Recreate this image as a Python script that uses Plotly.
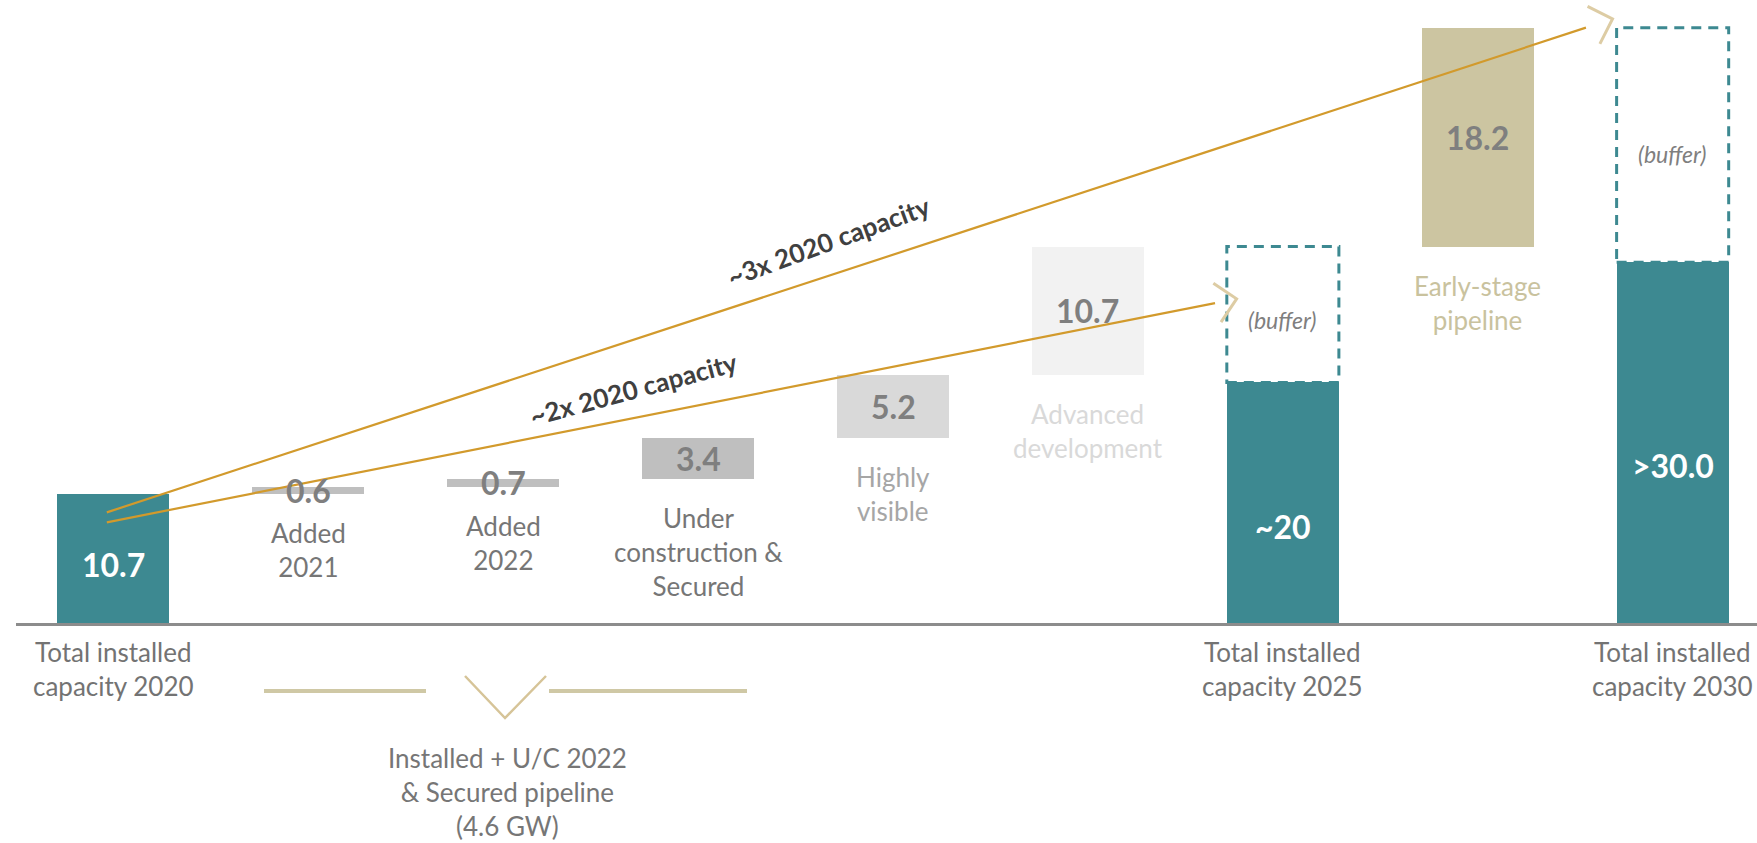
import math
import plotly.graph_objects as go

# ---------------- data ----------------
categories = [
    "Total installed<br>capacity 2020",
    "Added<br>2021",
    "Added<br>2022",
    "Under<br>construction &<br>Secured",
    "Highly<br>visible",
    "Advanced<br>development",
    "Total installed<br>capacity 2025",
    "Early-stage<br>pipeline",
    "Total installed<br>capacity 2030",
]
values = [10.7, 0.6, 0.7, 3.4, 5.2, 10.7, 20.0, 18.2, 30.0]
value_labels = ["10.7", "0.6", "0.7", "3.4", "5.2", "10.7", "~20", "18.2", ">30.0"]
kinds = ["total", "delta", "delta", "delta", "delta", "delta", "total", "delta", "total"]
buffer_label = "(buffer)"
bracket_label = "Installed + U/C 2022<br>& Secured pipeline<br>(4.6 GW)"
growth_labels = ["~2x 2020 capacity", "~3x 2020 capacity"]

# ---------------- styles ----------------
TEAL = "#3D8991"
bar_colors = [TEAL, "#BFBFBF", "#BFBFBF", "#BFBFBF", "#D9D9D9", "#F2F2F2", TEAL, "#CCC5A1", TEAL]
cat_colors = ["#737373", "#767676", "#767676", "#767676", "#A6A6A6", "#D9D9D9", "#737373", "#C9C29E", "#737373"]
val_colors = ["#FFFFFF", "#7F7F7F", "#7F7F7F", "#7F7F7F", "#7F7F7F", "#7F7F7F", "#FFFFFF", "#7F7F7F", "#FFFFFF"]
total_label_frac = [0.456, 0.40, 0.437]
GOLD = "#D29A2C"
CHEV = "#DDCCA4"
BRACKET = "#CFC8A5"
FONT = "Lato"

W, H = 1757, 843
ML, MR, MT, MB = 16, 0, 0, 220
PW, PH = W - ML - MR, H - MT - MB
XR = [-0.5, -0.5 + PW / 194.9]
YR = [0, 51.8]
BAR_W = 0.575


def d2px(x, y):
    return (ML + (x - XR[0]) / (XR[1] - XR[0]) * PW,
            MT + (YR[1] - y) / (YR[1] - YR[0]) * PH)


def px2d(px, py):
    return (XR[0] + (px - ML) / PW * (XR[1] - XR[0]),
            YR[1] - (py - MT) / PH * (YR[1] - YR[0]))


def px2paper(px, py):
    return ((px - ML) / PW, (MT + PH - py) / PH)


# ---------------- waterfall bases ----------------
bases = []
buffers = []
running = 0.0
for i, (v, k) in enumerate(zip(values, kinds)):
    if k == "total":
        bases.append(0.0)
        if running == 0:
            running = v
        else:
            buffers.append((i, v, running))
    else:
        bases.append(running)
        running += v

xs = list(range(len(values)))

fig = go.Figure()
fig.add_trace(go.Bar(
    x=xs, y=values, base=bases, width=BAR_W,
    marker=dict(color=bar_colors, line=dict(width=0)),
    hoverinfo="skip", showlegend=False,
))

shapes = []
annotations = []

# dashed buffer boxes
for (i, y0, y1) in buffers:
    shapes.append(dict(type="rect", xref="x", yref="y",
                       x0=i - BAR_W / 2, x1=i + BAR_W / 2, y0=y0, y1=y1,
                       line=dict(color=TEAL, width=3, dash="10px,7px"),
                       fillcolor="rgba(0,0,0,0)", layer="above"))
    annotations.append(dict(x=i, y=y0 + 0.46 * (y1 - y0), xref="x", yref="y",
                            text=buffer_label, showarrow=False,
                            font=dict(family=FONT, size=23, color="#7F7F7F", style="italic")))

# value + category labels
ti = 0
for i, (v, k) in enumerate(zip(values, kinds)):
    if k == "total":
        annotations.append(dict(x=i, y=total_label_frac[ti] * v, xref="x", yref="y",
                                text="<b>%s</b>" % value_labels[i], showarrow=False,
                                font=dict(family=FONT, size=32, color=val_colors[i])))
        ti += 1
        annotations.append(dict(x=i, y=0, xref="x", yref="paper", yanchor="middle",
                                yshift=-46, text=categories[i], showarrow=False,
                                font=dict(family=FONT, size=26, color=cat_colors[i])))
    else:
        annotations.append(dict(x=i, y=bases[i] + v / 2, xref="x", yref="y",
                                text="<b>%s</b>" % value_labels[i], showarrow=False,
                                font=dict(family=FONT, size=32, color=val_colors[i])))
        annotations.append(dict(x=i, y=bases[i], xref="x", yref="y", yanchor="top",
                                yshift=-21, text=categories[i], showarrow=False,
                                font=dict(family=FONT, size=26, color=cat_colors[i])))

# growth arrows (decoration, in data units)
growth_arrows = [
    dict(x0=-0.034, y0=8.37, x1=5.652, y1=26.6, gap=22, text_x=2.666, text_y=19.43, angle=-15),
    dict(x0=-0.034, y0=9.2, x1=7.555, y1=49.5, gap=28, text_x=3.671, text_y=31.73, angle=-20),
]
for a, lab in zip(growth_arrows, growth_labels):
    shapes.append(dict(type="line", xref="x", yref="y", x0=a["x0"], y0=a["y0"],
                       x1=a["x1"], y1=a["y1"], line=dict(color=GOLD, width=2.2), layer="above"))
    sx, sy = d2px(a["x0"], a["y0"])
    ex, ey = d2px(a["x1"], a["y1"])
    L = math.hypot(ex - sx, ey - sy)
    dx, dy = (ex - sx) / L, (ey - sy) / L
    tx, ty = ex + a["gap"] * dx, ey + a["gap"] * dy
    arm = 28
    pts = []
    for ang in (math.radians(45), math.radians(-45)):
        bx = -dx * math.cos(ang) + dy * math.sin(ang)
        by = -dx * math.sin(ang) - dy * math.cos(ang)
        pts.append((tx + arm * bx, ty + arm * by))
    p1 = px2d(*pts[0]); pt = px2d(tx, ty); p2 = px2d(*pts[1])
    shapes.append(dict(type="path", xref="x", yref="y",
                       path="M %f,%f L %f,%f L %f,%f" % (p1[0], p1[1], pt[0], pt[1], p2[0], p2[1]),
                       line=dict(color=CHEV, width=3), layer="above"))
    annotations.append(dict(x=a["text_x"], y=a["text_y"], xref="x", yref="y",
                            text="<b>%s</b>" % lab, showarrow=False, textangle=a["angle"],
                            font=dict(family=FONT, size=26, color="#404040")))

# bracket under categories 1-3
bracket_px = [((264, 691), (426, 691)), ((549, 691), (747, 691))]
for (p0, p1) in bracket_px:
    a0 = px2paper(*p0); a1 = px2paper(*p1)
    shapes.append(dict(type="line", xref="paper", yref="paper", x0=a0[0], y0=a0[1],
                       x1=a1[0], y1=a1[1], line=dict(color=BRACKET, width=4)))
v0 = px2paper(465, 676); v1 = px2paper(505, 718); v2 = px2paper(546, 676)
shapes.append(dict(type="path", xref="paper", yref="paper",
                   path="M %f,%f L %f,%f L %f,%f" % (v0[0], v0[1], v1[0], v1[1], v2[0], v2[1]),
                   line=dict(color="#D6C498", width=2.5)))
bc = px2paper(507, 792)
annotations.append(dict(x=bc[0], y=bc[1], xref="paper", yref="paper",
                        xanchor="center", yanchor="middle",
                        text=bracket_label, showarrow=False,
                        font=dict(family=FONT, size=26, color="#767676")))

fig.update_layout(
    width=W, height=H,
    margin=dict(l=ML, r=MR, t=MT, b=MB, pad=0),
    paper_bgcolor="white", plot_bgcolor="white",
    xaxis=dict(range=XR, showgrid=False, zeroline=False, showticklabels=False,
               showline=True, linecolor="#8C8C8C", linewidth=2.5, ticks="", fixedrange=True),
    yaxis=dict(range=YR, showgrid=False, zeroline=False, showticklabels=False,
               showline=False, ticks="", fixedrange=True),
    shapes=shapes, annotations=annotations,
    showlegend=False, bargap=0, hovermode=False,
)

fig.write_html("out.html", config={"displayModeBar": False},
               post_script="document.body.style.margin='0';document.body.style.overflow='hidden';")
